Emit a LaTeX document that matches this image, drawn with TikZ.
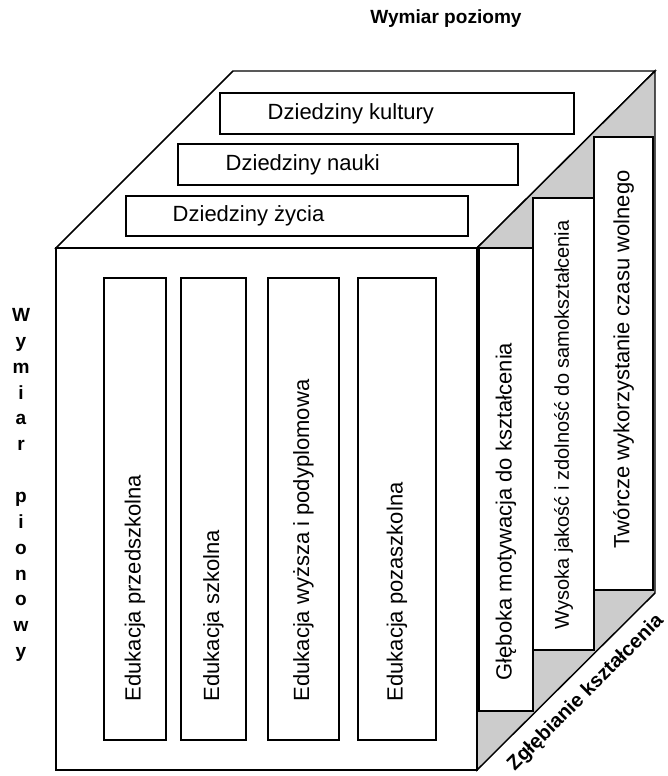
\documentclass[tikz,border=0pt]{standalone}
\usepackage{fontspec}
\setmainfont{Liberation Sans}
\usepackage{tikz}
\definecolor{sidegray}{RGB}{204,204,204}

\begin{document}
\begin{tikzpicture}[x=0.75pt,y=-0.75pt,line width=1.1pt,
  txt/.style={font=\fontsize{16.5}{19}\selectfont,inner sep=0pt},
  head/.style={font=\fontsize{14.3}{19.4}\selectfont\bfseries,inner sep=0pt,align=center}]
\useasboundingbox (0,0) rectangle (668,776);
%Cube faces
\draw[fill=white] (56,248) -- (233,71) -- (655,71) -- (477,248) -- cycle;
\draw[fill=sidegray] (477,248) -- (655,71) -- (655,593) -- (477,770) -- cycle;
\draw[fill=white] (56,248) rectangle (477,770);
%Boxes on top face
\draw[fill=white] (220,93) rectangle (574,134);
\draw[fill=white] (178,144) rectangle (518,185);
\draw[fill=white] (126,196) rectangle (468,236);
%Boxes on front face
\draw[fill=white] (104,278) rectangle (166,740);
\draw[fill=white] (181,278) rectangle (246,740);
\draw[fill=white] (268,278) rectangle (339,740);
\draw[fill=white] (358,278) rectangle (436,740);
%Boxes on side face
\draw[fill=white] (479,248) rectangle (533,711);
\draw[fill=white] (533,198) rectangle (594,650);
\draw[fill=white] (594,137) rectangle (653,590);
%Top labels
\node[txt,anchor=west] (Kultura) at (267,113.5) {Dziedziny kultury};
\node[txt,anchor=west] (Nauka) at (225,164.5) {Dziedziny nauki};
\node[txt,anchor=west] (Zycie) at (172,216) {Dziedziny życia};
%Front labels
\node[txt,rotate=90,anchor=west] (Przedszk) at (135,702) {Edukacja przedszkolna};
\node[txt,rotate=90,anchor=west] (Szkolna) at (213.5,702) {Edukacja szkolna};
\node[txt,rotate=90,anchor=west] (Wyzsza) at (303.5,702) {Edukacja wyższa i podyplomowa};
\node[txt,rotate=90,anchor=west] (Pozaszk) at (397,702) {Edukacja pozaszkolna};
%Side labels
\node[txt,rotate=90,anchor=west] (Motyw) at (506,681) {Głęboka motywacja do kształcenia};
\node[txt,rotate=90,anchor=west,font=\fontsize{15}{18}\selectfont] (Jakosc) at (563.5,630) {Wysoka jakość i zdolność do samokształcenia};
\node[txt,rotate=90,anchor=west] (Czas) at (623.5,549) {Twórcze wykorzystanie czasu wolnego};
%Axis names
\node[head] (Poziom) at (446,19) {Wymiar poziomy};
\node[head] (Pion) at (21,485) {W\\y\\m\\i\\a\\r\\\mbox{}\\p\\i\\o\\n\\o\\w\\y};
\node[head,rotate=45,font=\fontsize{15}{18}\selectfont\bfseries] (Glab) at (586,693) {Zgłębianie kształcenia};
\end{tikzpicture}
\end{document}
